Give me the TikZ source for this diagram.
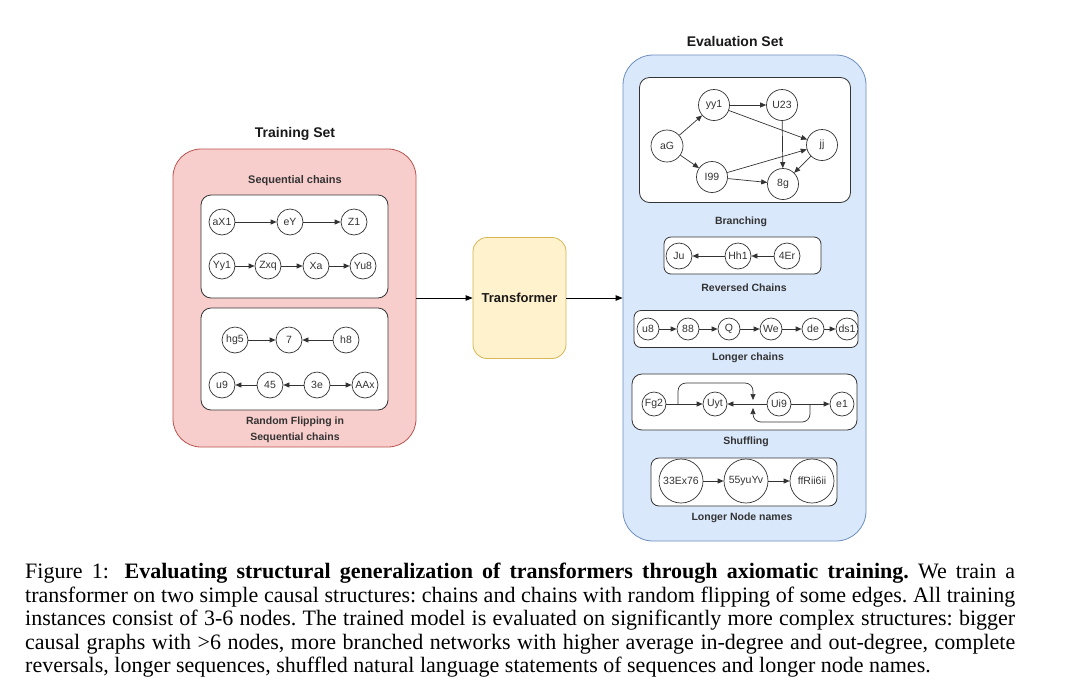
\documentclass[tikz,border=0pt]{standalone}
\usepackage{fontspec}
\setmainfont{Liberation Sans}
\newfontfamily\capfont{Liberation Serif}
\usetikzlibrary{arrows.meta}
\definecolor{redfill}{HTML}{F8CECC}
\definecolor{redline}{HTML}{B85450}
\definecolor{bluefill}{HTML}{DAE8FC}
\definecolor{blueline}{HTML}{6C8EBF}
\definecolor{yelfill}{HTML}{FFF2CC}
\definecolor{yelline}{HTML}{D6B656}
\definecolor{ink}{HTML}{333333}
\begin{document}
\begin{tikzpicture}[x=1pt,y=-1pt,
  cnode/.style={circle, draw=ink, fill=white, line width=0.7pt, inner sep=0pt, minimum size=26pt, font=\fontsize{10.5}{12}\selectfont, text=ink},
  arr/.style={-{Triangle[length=6pt,width=5pt]}, line width=0.7pt, draw=ink},
  bigarr/.style={-{Triangle[length=7pt,width=5.5pt]}, line width=0.8pt, draw=black},
  panel/.style={rectangle, rounded corners=10pt, draw=ink, fill=white, line width=0.8pt, inner sep=0pt},
  ptitle/.style={font=\bfseries\fontsize{11}{13}\selectfont, text=ink, inner sep=0pt},
  btitle/.style={font=\bfseries\fontsize{14}{16}\selectfont, text=black!90, inner sep=0pt},
  plabel/.style={font=\bfseries\fontsize{10.5}{16}\selectfont, text=ink, inner sep=0pt, align=center}
]
\useasboundingbox (0,0) rectangle (1080,697);
\fill[white] (0,0) rectangle (1080,697);

% ---------- Training set ----------
\node[btitle] (ttitle) at (295,134) {Training Set};
\node[rectangle, rounded corners=28pt, draw=redline, fill=redfill, line width=0.8pt, minimum width=243pt, minimum height=298pt] (rbox) at (294.5,298) {};
\node[ptitle] (seqlab) at (295,181) {Sequential chains};
\node[panel, minimum width=187pt, minimum height=103pt] (p1) at (294.5,246.5) {};
\node[panel, minimum width=187pt, minimum height=102pt] (p2) at (294.5,359) {};
\node[plabel] (rflab) at (295,429.5) {Random Flipping in\\Sequential chains};

\node[cnode] (aX1) at (222,222) {aX1};
\node[cnode] (eY)  at (290,222) {eY};
\node[cnode] (Z1)  at (354,222) {Z1};
\draw[arr] (aX1) -- (eY);
\draw[arr] (eY) -- (Z1);

\node[cnode] (Yy1) at (222,266) {Yy1};
\node[cnode] (Zxq) at (268,266) {Zxq};
\node[cnode] (Xa)  at (316,266) {Xa};
\node[cnode] (Yu8) at (363,266) {Yu8};
\draw[arr] (Yy1) -- (Zxq);
\draw[arr] (Zxq) -- (Xa);
\draw[arr] (Xa) -- (Yu8);

\node[cnode] (hg5) at (235,340) {hg5};
\node[cnode] (n7)  at (289,340) {7};
\node[cnode] (h8)  at (346,340) {h8};
\draw[arr] (hg5) -- (n7);
\draw[arr] (h8) -- (n7);

\node[cnode] (u9)  at (222,385) {u9};
\node[cnode] (n45) at (270,385) {45};
\node[cnode] (n3e) at (317,385) {3e};
\node[cnode] (AAx) at (365,385) {AAx};
\draw[arr] (n45) -- (u9);
\draw[arr] (n3e) -- (n45);
\draw[arr] (n3e) -- (AAx);

% ---------- Transformer ----------
\node[rectangle, rounded corners=14pt, draw=yelline, fill=yelfill, line width=0.8pt, minimum width=93pt, minimum height=121pt, font=\bfseries\fontsize{13}{15}\selectfont, text=black!90] (tf) at (519.5,298) {Transformer};

% ---------- Evaluation set ----------
\node[btitle] (etitle) at (735,41) {Evaluation Set};
\node[rectangle, rounded corners=30pt, draw=blueline, fill=bluefill, line width=0.8pt, minimum width=243pt, minimum height=486pt] (bbox) at (744.5,298) {};

\draw[bigarr] (rbox) -- (tf);
\draw[bigarr] (tf) -- (bbox);

% Branching
\node[panel, minimum width=211pt, minimum height=125pt] (p3) at (745,140) {};
\node[plabel] (brlab) at (741,222) {Branching};
\node[cnode, minimum size=32pt] (aG)  at (667,146) {aG};
\node[cnode, minimum size=31pt] (yy1) at (714,105) {yy1};
\node[cnode, minimum size=31pt] (U23) at (782,105) {U23};
\node[cnode, minimum size=31pt] (jj)  at (822,145) {jj};
\node[cnode, minimum size=31pt] (I99) at (712,177) {I99};
\node[cnode, minimum size=31pt] (g8)  at (783,184) {8g};
\draw[arr] (aG) -- (yy1);
\draw[arr] (aG) -- (I99);
\draw[arr] (yy1) -- (U23);
\draw[arr] (yy1) -- (jj);
\draw[arr] (U23) -- (g8);
\draw[arr] (I99) -- (jj);
\draw[arr] (I99) -- (g8);
\draw[arr] (jj) -- (g8);

% Reversed chains
\node[panel, minimum width=157pt, minimum height=37pt, rounded corners=7pt] (p4) at (742.5,255.5) {};
\node[plabel] (rvlab) at (744,288) {Reversed Chains};
\node[cnode] (Ju)  at (679,256) {Ju};
\node[cnode] (Hh1) at (738,256) {Hh1};
\node[cnode] (Er4) at (787,256) {4Er};
\draw[arr] (Hh1) -- (Ju);
\draw[arr] (Er4) -- (Hh1);

% Longer chains
\node[panel, minimum width=224pt, minimum height=37pt, rounded corners=7pt] (p5) at (746,329) {};
\node[plabel] (lclab) at (748,358) {Longer chains};
\node[cnode, minimum size=22pt] (u8)  at (648,329) {u8};
\node[cnode, minimum size=22pt] (n88) at (688,329) {88};
\node[cnode, minimum size=22pt] (Q)   at (729,329) {Q};
\node[cnode, minimum size=22pt] (We)  at (771,329) {We};
\node[cnode, minimum size=22pt] (de)  at (813,329) {de};
\node[cnode, minimum size=22pt] (ds1) at (847,329) {ds1};
\draw[arr] (u8) -- (n88);
\draw[arr] (n88) -- (Q);
\draw[arr] (Q) -- (We);
\draw[arr] (We) -- (de);
\draw[arr] (de) -- (ds1);

% Shuffling
\node[panel, minimum width=225pt, minimum height=56pt] (p6) at (744.5,402) {};
\node[plabel] (shlab) at (746,442) {Shuffling};
\node[cnode, minimum size=24pt] (Fg2) at (654,404) {Fg2};
\node[cnode, minimum size=24pt] (Uyt) at (715,404) {Uyt};
\node[cnode, minimum size=24pt] (Ui9) at (779,404) {Ui9};
\node[cnode, minimum size=24pt] (e1)  at (842,404) {e1};
\coordinate (s1) at (678,404);
\coordinate (j1) at (753,400);
\coordinate (s2) at (810,404);
\coordinate (j2) at (753,408);
\draw[arr] (Fg2) -- (Uyt);
\draw[arr] (Ui9) -- (Uyt);
\draw[arr] (Ui9) -- (e1);
\draw[arr, rounded corners=8pt] (s1) -- (678,383) -- (753,383) -- (j1);
\draw[arr, rounded corners=8pt] (s2) -- (810,422) -- (753,422) -- (j2);

% Longer node names
\node[panel, minimum width=186pt, minimum height=48pt, rounded corners=8pt] (p7) at (744,482) {};
\node[plabel] (lnlab) at (742,518) {Longer Node names};
\node[cnode, minimum size=44pt] (n33) at (681,481) {33Ex76};
\node[cnode, minimum size=44pt] (n55) at (746,481) {55yuYv};
\node[cnode, minimum size=44pt] (ffR) at (812,481) {ffRii6ii};
\draw[arr] (n33) -- (n55);
\draw[arr] (n55) -- (ffR);

% ---------- Caption ----------
\node[anchor=north west, text width=990pt, align=justify, inner sep=0pt, font=\capfont\fontsize{22}{23.5}\selectfont\frenchspacing] (cap) at (25,563) {Figure 1:\hspace{0.3em} \textbf{Evaluating structural generalization of transformers through axiomatic training.} We train a\linebreak transformer on two simple causal structures: chains and chains with random flipping of some edges. All training\linebreak instances consist of 3-6 nodes. The trained model is evaluated on significantly more complex structures: bigger\linebreak causal graphs with >6 nodes, more branched networks with higher average in-degree and out-degree, complete\linebreak reversals, longer sequences, shuffled natural language statements of sequences and longer node names.};
\end{tikzpicture}
\end{document}
